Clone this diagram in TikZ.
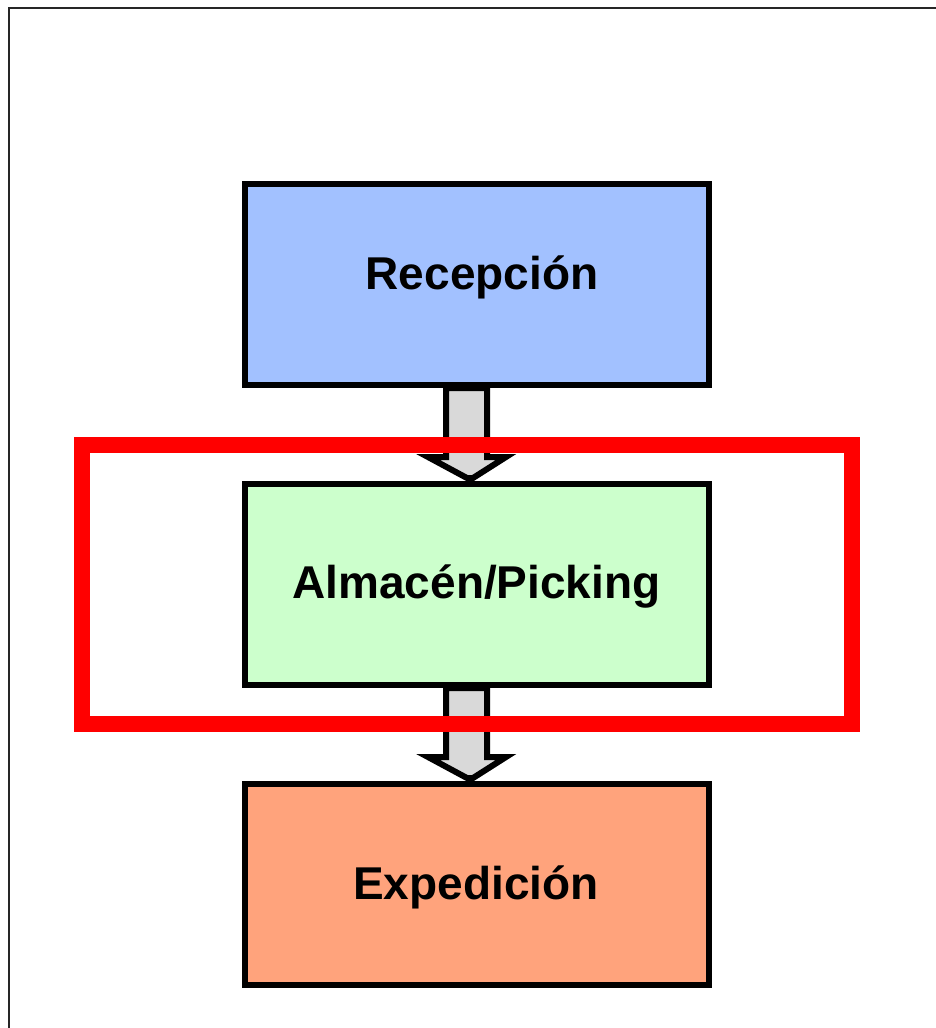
\documentclass[tikz,border=0pt]{standalone}
\usepackage{fontspec}
\setmainfont{Liberation Sans}
\usetikzlibrary{calc}
\definecolor{recfill}{RGB}{162,193,255}
\definecolor{almfill}{RGB}{204,255,204}
\definecolor{expfill}{RGB}{255,163,124}
\definecolor{arrowfill}{RGB}{217,217,217}
\tikzset{
  stagebox/.style={draw=black, line width=6pt, minimum width=464pt, minimum height=201pt, inner sep=0pt},
  stagetext/.style={anchor=base, inner sep=0pt, font=\fontsize{46pt}{50pt}\selectfont\bfseries},
  blockarrow/.style={draw=black, fill=arrowfill, line width=6pt, line join=miter},
  frameline/.style={draw=black!85, line width=2pt},
  focusbox/.style={draw=red, line width=16pt}
}
\begin{document}
\begin{tikzpicture}[x=1pt, y=-1pt]
\useasboundingbox (0,0) rectangle (936,1028);
\fill[white] (0,0) rectangle (936,1028);
% outer frame (open towards right and bottom)
\draw[frameline] (8.5,1028) -- (8.5,7.5) -- (936,7.5);

% stage positions
\coordinate (crec) at (477,284.5);
\coordinate (calm) at (477,584.5);
\coordinate (cexp) at (477,884.5);
\path (crec) node[stagebox, fill=recfill] (rec) {};
\path (calm) node[stagebox, fill=almfill] (alm) {};
\path (cexp) node[stagebox, fill=expfill] (exp) {};

% block arrows between stages
\foreach \a/\b in {rec/alm, alm/exp}{
  \draw[blockarrow]
    ($(\a.south)+(-31,0)$) -- ($(\b.north)+(-31,-24)$) --
    ($(\b.north)+(-49,-24)$) -- ($(\b.north)+(-10,-3)$) --
    ($(\b.north)+(-4,-3)$) --
    ($(\b.north)+(29,-24)$) -- ($(\b.north)+(10,-24)$) --
    ($(\a.south)+(10,0)$) -- cycle;
}

% highlight of the storage stage
\draw[focusbox] (82,445) rectangle (851.5,724);

% redraw boxes above the arrow ends
\path (crec) node[stagebox, fill=recfill] {};
\path (calm) node[stagebox, fill=almfill] {};
\path (cexp) node[stagebox, fill=expfill] {};

\node[stagetext] (trec) at (482,289) {Recepción};
\node[stagetext] (talm) at (476.5,598) {Almacén/Picking};
\node[stagetext] (texp) at (476,899) {Expedición};
\end{tikzpicture}
\end{document}
